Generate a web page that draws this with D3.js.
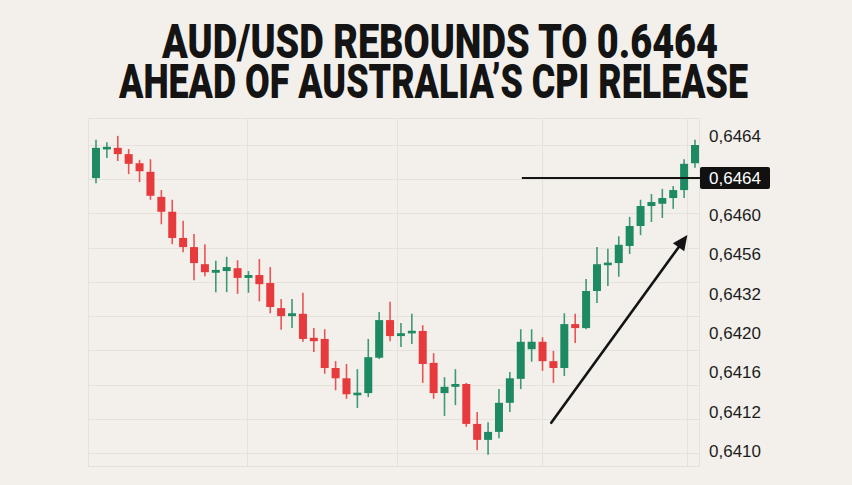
<!DOCTYPE html>
<html><head><meta charset="utf-8">
<script src="https://cdn.jsdelivr.net/npm/d3@7"></script>
<style>html,body{margin:0;padding:0;background:#f3f0eb;} svg{display:block;}</style>
</head><body>
<svg id="chart" width="852" height="485"></svg>
<script>
// ---------- data ----------
const titleLines = ["AUD/USD REBOUNDS TO 0.6464", "AHEAD OF AUSTRALIA\u2019S CPI RELEASE"];
const open  = [0.64582,0.64633,0.64635,0.64624,0.64608,0.64593,0.64549,0.64523,0.64477,0.64461,0.64431,0.64416,0.64419,0.64424,0.64407,0.64412,0.64398,0.64354,0.64340,0.64344,0.64302,0.64300,0.64249,0.64231,0.64202,0.64205,0.64267,0.64333,0.64305,0.64310,0.64314,0.64258,0.64205,0.64216,0.64221,0.64151,0.64123,0.64137,0.64188,0.64230,0.64282,0.64295,0.64261,0.64249,0.64326,0.64319,0.64384,0.64430,0.64433,0.64463,0.64498,0.64533,0.64537,0.64547,0.64561,0.64608];
const high  = [0.64649,0.64645,0.64656,0.64633,0.64614,0.64615,0.64561,0.64544,0.64507,0.64484,0.64466,0.64437,0.64444,0.64438,0.64419,0.64440,0.64426,0.64370,0.64370,0.64381,0.64319,0.64317,0.64261,0.64256,0.64247,0.64300,0.64347,0.64365,0.64328,0.64344,0.64324,0.64275,0.64233,0.64247,0.64223,0.64172,0.64154,0.64212,0.64242,0.64317,0.64317,0.64303,0.64279,0.64345,0.64344,0.64405,0.64461,0.64458,0.64480,0.64514,0.64544,0.64554,0.64563,0.64568,0.64615,0.64649];
const low   = [0.64573,0.64617,0.64612,0.64589,0.64575,0.64544,0.64501,0.64466,0.64452,0.64403,0.64410,0.64382,0.64382,0.64379,0.64381,0.64366,0.64345,0.64316,0.64319,0.64295,0.64277,0.64239,0.64210,0.64195,0.64179,0.64198,0.64265,0.64296,0.64286,0.64291,0.64223,0.64195,0.64165,0.64184,0.64146,0.64105,0.64097,0.64126,0.64172,0.64212,0.64260,0.64244,0.64223,0.64235,0.64293,0.64317,0.64363,0.64393,0.64409,0.64449,0.64482,0.64505,0.64512,0.64528,0.64547,0.64600];
const close = [0.64635,0.64636,0.64624,0.64607,0.64594,0.64551,0.64523,0.64477,0.64461,0.64433,0.64417,0.64421,0.64426,0.64407,0.64412,0.64396,0.64356,0.64340,0.64345,0.64300,0.64296,0.64249,0.64231,0.64203,0.64205,0.64268,0.64333,0.64305,0.64310,0.64314,0.64256,0.64205,0.64216,0.64221,0.64151,0.64123,0.64137,0.64188,0.64231,0.64295,0.64295,0.64261,0.64249,0.64326,0.64319,0.64384,0.64431,0.64433,0.64465,0.64498,0.64533,0.64540,0.64547,0.64561,0.64607,0.64640];
const tickLabels = ["0,6464","0,6464","0,6460","0,6456","0,6432","0,6420","0,6416","0,6412","0,6410"];
const highlightIndex = 1;
const lastPrice = 0.64582;
const gridPrices = [0.6410,0.6416,0.6422,0.6428,0.6434,0.6440,0.6446,0.6452,0.6458,0.6464];
const timeGrid = [13.87, 27.64, 40.96, 54.27];
const priceLineStart = 39.1;
const arrowFrom = {i: 41.8, p: 0.64153};
const arrowTo   = {i: 54.3, p: 0.64482};

// ---------- layout ----------
const W = 852, H = 485;
const frame = {left: 88, right: 699, top: 118, bottom: 466};
const GREEN = "#1d8a63", RED = "#e63a3c", GRID = "#e5e1db", INK = "#141414";

const svg = d3.select("#chart");
svg.append("rect").attr("width", W).attr("height", H).attr("fill", "#f3f0eb");

const x = d3.scaleLinear().domain([0, open.length - 1]).range([96, 695]);
const y = d3.scaleLinear().domain([0.6410, 0.6464]).range([453, 145]);
const yLab = d3.scalePoint().domain(d3.range(tickLabels.length)).range([136, 451]);

// title
svg.append("g").selectAll("text").data(titleLines).join("text")
  .attr("x", (d, i) => i === 0 ? 162 : 119)
  .attr("y", (d, i) => i === 0 ? 58 : 98)
  .attr("textLength", (d, i) => i === 0 ? 556 : 629)
  .attr("lengthAdjust", "spacingAndGlyphs")
  .attr("font-family", "Roboto,'Liberation Sans',sans-serif")
  .attr("font-weight", 900)
  .attr("font-size", 48)
  .attr("fill", INK)
  .text(d => d);

// grid
const grid = svg.append("g").attr("stroke", GRID).attr("stroke-width", 1).attr("fill", "none");
grid.append("rect").attr("x", frame.left + 0.5).attr("y", frame.top + 0.5)
  .attr("width", frame.right - frame.left).attr("height", frame.bottom - frame.top);
grid.selectAll("line.h").data(gridPrices).join("line").attr("class", "h")
  .attr("x1", frame.left).attr("x2", frame.right)
  .attr("y1", d => Math.round(y(d)) + 0.5).attr("y2", d => Math.round(y(d)) + 0.5);
grid.selectAll("line.v").data(timeGrid).join("line").attr("class", "v")
  .attr("x1", d => Math.round(x(d)) + 0.5).attr("x2", d => Math.round(x(d)) + 0.5)
  .attr("y1", frame.top).attr("y2", frame.bottom);

// candles
const candles = d3.range(open.length).map(i => ({i, o: open[i], h: high[i], l: low[i], c: close[i]}));
const cg = svg.append("g").selectAll("g").data(candles).join("g")
  .attr("fill", d => d.c >= d.o ? GREEN : RED)
  .attr("stroke", d => d.c >= d.o ? GREEN : RED);
cg.append("line")
  .attr("x1", d => x(d.i)).attr("x2", d => x(d.i))
  .attr("y1", d => y(d.h)).attr("y2", d => y(d.l))
  .attr("stroke-width", 1.6).attr("stroke-opacity", 0.85);
cg.append("rect")
  .attr("x", d => x(d.i) - 4).attr("width", 8)
  .attr("y", d => {
    const t = y(Math.max(d.o, d.c)), b = y(Math.min(d.o, d.c));
    return b - t < 2.6 ? (t + b) / 2 - 1.3 : t;
  })
  .attr("height", d => Math.max(2.6, y(Math.min(d.o, d.c)) - y(Math.max(d.o, d.c))))
  .attr("stroke", "none");

// price line
svg.append("line")
  .attr("x1", x(priceLineStart)).attr("x2", frame.right + 1)
  .attr("y1", y(lastPrice)).attr("y2", y(lastPrice))
  .attr("stroke", INK).attr("stroke-width", 2);

// arrow
{
  const x0 = x(arrowFrom.i), y0 = y(arrowFrom.p), x1 = x(arrowTo.i), y1 = y(arrowTo.p);
  const ang = Math.atan2(y1 - y0, x1 - x0);
  const hl = 15, hw = 7;
  const bx = x1 - hl * Math.cos(ang), by = y1 - hl * Math.sin(ang);
  svg.append("line").attr("x1", x0).attr("y1", y0).attr("x2", bx + 2 * Math.cos(ang)).attr("y2", by + 2 * Math.sin(ang))
    .attr("stroke", INK).attr("stroke-width", 2.6).attr("stroke-linecap", "round");
  const px = -Math.sin(ang), py = Math.cos(ang);
  svg.append("path")
    .attr("d", `M${x1},${y1}L${bx + hw * px},${by + hw * py}L${bx - hw * px},${by - hw * py}Z`)
    .attr("fill", INK);
}

// y labels
const lab = svg.append("g").attr("font-family", "'Liberation Sans','Inter',sans-serif").attr("font-size", 17);
const hy = y(lastPrice);
lab.append("rect").attr("x", 700).attr("y", hy - 11).attr("width", 70).attr("height", 22).attr("rx", 2).attr("fill", "#111");
lab.selectAll("text").data(tickLabels).join("text")
  .attr("x", 709)
  .attr("y", (d, i) => i === highlightIndex ? hy : yLab(i))
  .attr("dy", "0.36em")
  .attr("fill", (d, i) => i === highlightIndex ? "#ffffff" : "#1c1c1c")
  .text(d => d);
</script>
</body></html>
